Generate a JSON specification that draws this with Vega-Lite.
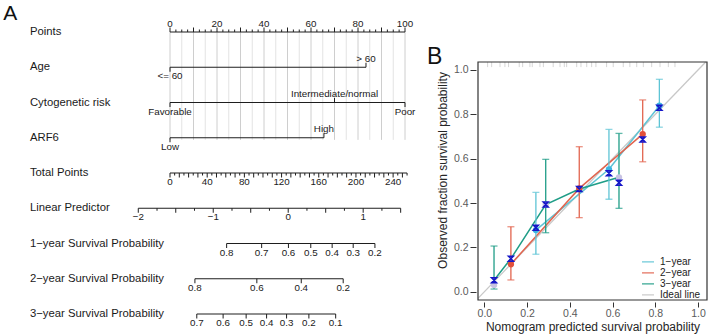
{
  "$schema": "https://vega.github.io/schema/vega-lite/v6.json",
  "padding": 0,
  "background": "white",
  "bounds": "flush",
  "spacing": 58,
  "config": {
    "view": {"stroke": null},
    "font": "Liberation Sans, Arial, Helvetica, sans-serif"
  },
  "resolve": {
    "scale": {"color": "independent", "fill": "independent"},
    "legend": {"color": "independent", "fill": "independent"}
  },
  "datasets": {
    "rowNames": [
      {"row": 0, "name": "Points"},
      {"row": 1, "name": "Age"},
      {"row": 2, "name": "Cytogenetic risk"},
      {"row": 3, "name": "ARF6"},
      {"row": 4, "name": "Total Points"},
      {"row": 5, "name": "Linear Predictor"},
      {"row": 6, "name": "1−year Survival Probability"},
      {"row": 7, "name": "2−year Survival Probability"},
      {"row": 8, "name": "3−year Survival Probability"}
    ],
    "nomoLines": [
      {"row": 0, "from": 0, "to": 100},
      {"row": 1, "from": 0, "to": 83.4},
      {"row": 2, "from": 0, "to": 100},
      {"row": 3, "from": 0, "to": 65.5},
      {"row": 4, "from": 0, "to": 100.878},
      {"row": 5, "from": -13.5, "to": 98.15},
      {"row": 6, "from": 24.1, "to": 87.2},
      {"row": 7, "from": 10.6, "to": 73.7},
      {"row": 8, "from": 11.4, "to": 70.5}
    ],
    "grid5": [
      {"pos": 5}, {"pos": 15}, {"pos": 25}, {"pos": 35}, {"pos": 45},
      {"pos": 55}, {"pos": 65}, {"pos": 75}, {"pos": 85}, {"pos": 95}
    ],
    "grid10": [
      {"pos": 0}, {"pos": 10}, {"pos": 20}, {"pos": 30}, {"pos": 40}, {"pos": 50},
      {"pos": 60}, {"pos": 70}, {"pos": 80}, {"pos": 90}, {"pos": 100}
    ],
    "ticksUp": [
      {"row": 0, "pos": 0}, {"row": 0, "pos": 10}, {"row": 0, "pos": 20}, {"row": 0, "pos": 30},
      {"row": 0, "pos": 40}, {"row": 0, "pos": 50}, {"row": 0, "pos": 60}, {"row": 0, "pos": 70},
      {"row": 0, "pos": 80}, {"row": 0, "pos": 90}, {"row": 0, "pos": 100},
      {"row": 1, "pos": 83.4},
      {"row": 2, "pos": 70},
      {"row": 3, "pos": 65.5}
    ],
    "ticksUpMinor": [
      {"row": 0, "pos": 2.5}, {"row": 0, "pos": 5}, {"row": 0, "pos": 7.5},
      {"row": 0, "pos": 12.5}, {"row": 0, "pos": 15}, {"row": 0, "pos": 17.5},
      {"row": 0, "pos": 22.5}, {"row": 0, "pos": 25}, {"row": 0, "pos": 27.5},
      {"row": 0, "pos": 32.5}, {"row": 0, "pos": 35}, {"row": 0, "pos": 37.5},
      {"row": 0, "pos": 42.5}, {"row": 0, "pos": 45}, {"row": 0, "pos": 47.5},
      {"row": 0, "pos": 52.5}, {"row": 0, "pos": 55}, {"row": 0, "pos": 57.5},
      {"row": 0, "pos": 62.5}, {"row": 0, "pos": 65}, {"row": 0, "pos": 67.5},
      {"row": 0, "pos": 72.5}, {"row": 0, "pos": 75}, {"row": 0, "pos": 77.5},
      {"row": 0, "pos": 82.5}, {"row": 0, "pos": 85}, {"row": 0, "pos": 87.5},
      {"row": 0, "pos": 92.5}, {"row": 0, "pos": 95}, {"row": 0, "pos": 97.5}
    ],
    "ticksDown": [
      {"row": 1, "pos": 0},
      {"row": 2, "pos": 0}, {"row": 2, "pos": 100},
      {"row": 3, "pos": 0},
      {"row": 4, "pos": 0}, {"row": 4, "pos": 3.956}, {"row": 4, "pos": 7.912}, {"row": 4, "pos": 11.868},
      {"row": 4, "pos": 15.824}, {"row": 4, "pos": 19.78}, {"row": 4, "pos": 23.736}, {"row": 4, "pos": 27.692},
      {"row": 4, "pos": 31.648}, {"row": 4, "pos": 35.604}, {"row": 4, "pos": 39.56}, {"row": 4, "pos": 43.516},
      {"row": 4, "pos": 47.472}, {"row": 4, "pos": 51.428}, {"row": 4, "pos": 55.384}, {"row": 4, "pos": 59.34},
      {"row": 4, "pos": 63.296}, {"row": 4, "pos": 67.252}, {"row": 4, "pos": 71.208}, {"row": 4, "pos": 75.164},
      {"row": 4, "pos": 79.12}, {"row": 4, "pos": 83.076}, {"row": 4, "pos": 87.032}, {"row": 4, "pos": 90.988},
      {"row": 4, "pos": 94.944}, {"row": 4, "pos": 98.9},
      {"row": 5, "pos": -13.5}, {"row": 5, "pos": 2.45}, {"row": 5, "pos": 18.4}, {"row": 5, "pos": 34.35},
      {"row": 5, "pos": 50.3}, {"row": 5, "pos": 66.25}, {"row": 5, "pos": 82.2}, {"row": 5, "pos": 98.15},
      {"row": 6, "pos": 24.1}, {"row": 6, "pos": 39.0}, {"row": 6, "pos": 50.4}, {"row": 6, "pos": 59.9},
      {"row": 6, "pos": 69.0}, {"row": 6, "pos": 77.95}, {"row": 6, "pos": 87.2},
      {"row": 7, "pos": 10.6}, {"row": 7, "pos": 36.95}, {"row": 7, "pos": 55.85}, {"row": 7, "pos": 73.7},
      {"row": 8, "pos": 11.4}, {"row": 8, "pos": 22.6}, {"row": 8, "pos": 32.4}, {"row": 8, "pos": 41.1},
      {"row": 8, "pos": 49.6}, {"row": 8, "pos": 59.1}, {"row": 8, "pos": 70.5}
    ],
    "ticksDownMinor": [
      {"row": 4, "pos": 1.978}, {"row": 4, "pos": 5.934}, {"row": 4, "pos": 9.89}, {"row": 4, "pos": 13.846},
      {"row": 4, "pos": 17.802}, {"row": 4, "pos": 21.758}, {"row": 4, "pos": 25.714}, {"row": 4, "pos": 29.67},
      {"row": 4, "pos": 33.626}, {"row": 4, "pos": 37.582}, {"row": 4, "pos": 41.538}, {"row": 4, "pos": 45.494},
      {"row": 4, "pos": 49.45}, {"row": 4, "pos": 53.406}, {"row": 4, "pos": 57.362}, {"row": 4, "pos": 61.318},
      {"row": 4, "pos": 65.274}, {"row": 4, "pos": 69.23}, {"row": 4, "pos": 73.186}, {"row": 4, "pos": 77.142},
      {"row": 4, "pos": 81.098}, {"row": 4, "pos": 85.054}, {"row": 4, "pos": 89.01}, {"row": 4, "pos": 92.966},
      {"row": 4, "pos": 96.922}, {"row": 4, "pos": 100.878},
      {"row": 5, "pos": -5.525}, {"row": 5, "pos": 10.425}, {"row": 5, "pos": 26.375}, {"row": 5, "pos": 42.325},
      {"row": 5, "pos": 58.275}, {"row": 5, "pos": 74.225}, {"row": 5, "pos": 90.175}
    ],
    "labelsAbove": [
      {"row": 0, "pos": 0, "text": "0"}, {"row": 0, "pos": 20, "text": "20"},
      {"row": 0, "pos": 40, "text": "40"}, {"row": 0, "pos": 60, "text": "60"},
      {"row": 0, "pos": 80, "text": "80"}, {"row": 0, "pos": 100, "text": "100"},
      {"row": 1, "pos": 83.4, "text": "> 60"},
      {"row": 2, "pos": 70, "text": "Intermediate/normal"},
      {"row": 3, "pos": 65.5, "text": "High"}
    ],
    "labelsBelow": [
      {"row": 1, "pos": 0, "text": "<= 60"},
      {"row": 2, "pos": 0, "text": "Favorable"},
      {"row": 2, "pos": 100, "text": "Poor"},
      {"row": 3, "pos": 0, "text": "Low"},
      {"row": 4, "pos": 0, "text": "0"}, {"row": 4, "pos": 15.824, "text": "40"},
      {"row": 4, "pos": 31.648, "text": "80"}, {"row": 4, "pos": 47.472, "text": "120"},
      {"row": 4, "pos": 63.296, "text": "160"}, {"row": 4, "pos": 79.12, "text": "200"},
      {"row": 4, "pos": 94.944, "text": "240"},
      {"row": 5, "pos": -13.5, "text": "−2"}, {"row": 5, "pos": 18.4, "text": "−1"},
      {"row": 5, "pos": 50.3, "text": "0"}, {"row": 5, "pos": 82.2, "text": "1"},
      {"row": 6, "pos": 24.1, "text": "0.8"}, {"row": 6, "pos": 39.0, "text": "0.7"},
      {"row": 6, "pos": 50.4, "text": "0.6"}, {"row": 6, "pos": 59.9, "text": "0.5"},
      {"row": 6, "pos": 69.0, "text": "0.4"}, {"row": 6, "pos": 77.95, "text": "0.3"},
      {"row": 6, "pos": 87.2, "text": "0.2"},
      {"row": 7, "pos": 10.6, "text": "0.8"}, {"row": 7, "pos": 36.95, "text": "0.6"},
      {"row": 7, "pos": 55.85, "text": "0.4"}, {"row": 7, "pos": 73.7, "text": "0.2"},
      {"row": 8, "pos": 11.4, "text": "0.7"}, {"row": 8, "pos": 22.6, "text": "0.6"},
      {"row": 8, "pos": 32.4, "text": "0.5"}, {"row": 8, "pos": 41.1, "text": "0.4"},
      {"row": 8, "pos": 49.6, "text": "0.3"}, {"row": 8, "pos": 59.1, "text": "0.2"},
      {"row": 8, "pos": 70.5, "text": "0.1"}
    ],
    "calIdeal": [
      {"series": "Ideal line", "x": -0.03, "y": -0.03},
      {"series": "Ideal line", "x": 1.036, "y": 1.036}
    ],
    "calLines": [
      {"series": "1−year", "x": 0.241, "y": 0.278},
      {"series": "1−year", "x": 0.583, "y": 0.552},
      {"series": "1−year", "x": 0.819, "y": 0.839},
      {"series": "2−year", "x": 0.124, "y": 0.124},
      {"series": "2−year", "x": 0.444, "y": 0.466},
      {"series": "2−year", "x": 0.741, "y": 0.711},
      {"series": "3−year", "x": 0.045, "y": 0.052},
      {"series": "3−year", "x": 0.124, "y": 0.149},
      {"series": "3−year", "x": 0.287, "y": 0.393},
      {"series": "3−year", "x": 0.444, "y": 0.463},
      {"series": "3−year", "x": 0.63, "y": 0.516}
    ],
    "cal": [
      {"series": "1−year", "pred": 0.241, "obs": 0.278, "corrected": 0.289, "lo": 0.169, "hi": 0.448},
      {"series": "1−year", "pred": 0.583, "obs": 0.552, "corrected": 0.534, "lo": 0.417, "hi": 0.732},
      {"series": "1−year", "pred": 0.819, "obs": 0.839, "corrected": 0.83, "lo": 0.742, "hi": 0.958},
      {"series": "2−year", "pred": 0.124, "obs": 0.124, "corrected": 0.149, "lo": 0.053, "hi": 0.293},
      {"series": "2−year", "pred": 0.444, "obs": 0.466, "corrected": 0.463, "lo": 0.334, "hi": 0.654},
      {"series": "2−year", "pred": 0.741, "obs": 0.711, "corrected": 0.687, "lo": 0.586, "hi": 0.865},
      {"series": "3−year", "pred": 0.045, "obs": 0.03, "corrected": 0.052, "lo": 0.012, "hi": 0.206},
      {"series": "3−year", "pred": 0.287, "obs": 0.393, "corrected": 0.393, "lo": 0.266, "hi": 0.597},
      {"series": "3−year", "pred": 0.63, "obs": 0.516, "corrected": 0.492, "lo": 0.376, "hi": 0.714}
    ],
    "rug": [
      {"x": 0.015}, {"x": 0.034}, {"x": 0.073}, {"x": 0.096}, {"x": 0.113}, {"x": 0.163},
      {"x": 0.179}, {"x": 0.213}, {"x": 0.224}, {"x": 0.26}, {"x": 0.276}, {"x": 0.322},
      {"x": 0.354}, {"x": 0.374}, {"x": 0.385}, {"x": 0.432}, {"x": 0.452}, {"x": 0.479},
      {"x": 0.502}, {"x": 0.522}, {"x": 0.572}, {"x": 0.603}, {"x": 0.65}, {"x": 0.681},
      {"x": 0.713}, {"x": 0.744}, {"x": 0.783}, {"x": 0.822}, {"x": 0.861}, {"x": 0.892}
    ],
    "panelA": [{"tag": "A"}],
    "panelB": [{"tag": "B"}],
    "frame": [{"x0": -0.03, "x1": 1.042, "y0": -0.0374, "y1": 1.036}]
  },
  "hconcat": [
    {
      "width": 420,
      "height": 336,
      "layer": [
        {
          "data": {"name": "grid5"},
          "mark": {"type": "rule", "color": "#e0e0e0", "strokeWidth": 0.9},
          "encoding": {
            "x": {"field": "pos", "type": "quantitative", "scale": {"domain": [-72.34, 106.38], "nice": false, "zero": false}, "axis": null},
            "y": {"datum": 0, "type": "quantitative", "scale": {"domain": [-0.908, 8.624], "nice": false, "zero": false, "reverse": true}, "axis": null},
            "y2": {"datum": 3.06}
          }
        },
        {
          "data": {"name": "grid10"},
          "mark": {"type": "rule", "color": "#c8c8c8", "strokeWidth": 0.9},
          "encoding": {
            "x": {"field": "pos", "type": "quantitative", "axis": null},
            "y": {"datum": 0, "type": "quantitative", "axis": null},
            "y2": {"datum": 3.06}
          }
        },
        {
          "data": {"name": "nomoLines"},
          "mark": {"type": "rule", "color": "#1e1e1e", "strokeWidth": 1.2},
          "encoding": {
            "x": {"field": "from", "type": "quantitative", "axis": null},
            "x2": {"field": "to"},
            "y": {"field": "row", "type": "quantitative", "axis": null}
          }
        },
        {
          "data": {"name": "ticksUp"},
          "mark": {"type": "rule", "color": "#1e1e1e", "strokeWidth": 1, "y2Offset": -4.5},
          "encoding": {
            "x": {"field": "pos", "type": "quantitative", "axis": null},
            "y": {"field": "row", "type": "quantitative", "axis": null},
            "y2": {"field": "row"}
          }
        },
        {
          "data": {"name": "ticksUpMinor"},
          "mark": {"type": "rule", "color": "#1e1e1e", "strokeWidth": 1, "y2Offset": -2.5},
          "encoding": {
            "x": {"field": "pos", "type": "quantitative", "axis": null},
            "y": {"field": "row", "type": "quantitative", "axis": null},
            "y2": {"field": "row"}
          }
        },
        {
          "data": {"name": "ticksDown"},
          "mark": {"type": "rule", "color": "#1e1e1e", "strokeWidth": 1, "y2Offset": 4.5},
          "encoding": {
            "x": {"field": "pos", "type": "quantitative", "axis": null},
            "y": {"field": "row", "type": "quantitative", "axis": null},
            "y2": {"field": "row"}
          }
        },
        {
          "data": {"name": "ticksDownMinor"},
          "mark": {"type": "rule", "color": "#1e1e1e", "strokeWidth": 1, "y2Offset": 2.5},
          "encoding": {
            "x": {"field": "pos", "type": "quantitative", "axis": null},
            "y": {"field": "row", "type": "quantitative", "axis": null},
            "y2": {"field": "row"}
          }
        },
        {
          "data": {"name": "labelsAbove"},
          "mark": {"type": "text", "fontSize": 9.8, "color": "#1a1a1a", "align": "center", "baseline": "alphabetic", "dy": -5.5},
          "encoding": {
            "x": {"field": "pos", "type": "quantitative", "axis": null},
            "y": {"field": "row", "type": "quantitative", "axis": null},
            "text": {"field": "text"}
          }
        },
        {
          "data": {"name": "labelsBelow"},
          "mark": {"type": "text", "fontSize": 9.8, "color": "#1a1a1a", "align": "center", "baseline": "top", "dy": 4},
          "encoding": {
            "x": {"field": "pos", "type": "quantitative", "axis": null},
            "y": {"field": "row", "type": "quantitative", "axis": null},
            "text": {"field": "text"}
          }
        },
        {
          "data": {"name": "rowNames"},
          "mark": {"type": "text", "fontSize": 11.3, "color": "#1a1a1a", "align": "left", "baseline": "middle"},
          "encoding": {
            "x": {"datum": -59.6, "type": "quantitative", "axis": null},
            "y": {"field": "row", "type": "quantitative", "axis": null},
            "text": {"field": "name"}
          }
        },
        {
          "data": {"name": "panelA"},
          "mark": {"type": "text", "fontSize": 21, "color": "#111111", "align": "left", "baseline": "alphabetic"},
          "encoding": {
            "x": {"datum": -71.0, "type": "quantitative", "axis": null},
            "y": {"datum": -0.34, "type": "quantitative", "axis": null},
            "text": {"field": "tag"}
          }
        }
      ]
    },
    {
      "width": 229,
      "height": 300,
      "layer": [
        {
          "data": {"name": "rug"},
          "mark": {"type": "rule", "color": "#d6d6d6", "strokeWidth": 1},
          "encoding": {
            "x": {
              "field": "x", "type": "quantitative",
              "scale": {"domain": [-0.03, 1.042], "nice": false, "zero": false},
              "axis": {
                "values": [0, 0.2, 0.4, 0.6, 0.8, 1.0], "format": ".1f", "grid": false, "domain": false,
                "offset": 2, "tickSize": 5, "tickColor": "#333333", "labelPadding": 1,
                "labelFontSize": 10.5, "labelColor": "#5a5a5a",
                "title": "Nomogram predicted survival probability", "titleFontSize": 12,
                "titleFontWeight": "normal", "titleColor": "#262626", "titlePadding": 3
              }
            },
            "y": {
              "datum": 1.013, "type": "quantitative",
              "scale": {"domain": [-0.0374, 1.3157], "nice": false, "zero": false},
              "axis": {
                "values": [0, 0.2, 0.4, 0.6, 0.8, 1.0], "format": ".1f", "grid": false, "domain": false,
                "offset": 2, "tickSize": 6, "tickColor": "#333333", "labelPadding": 2,
                "labelFontSize": 10.5, "labelColor": "#5a5a5a",
                "title": "Observed fraction survival probability", "titleFontSize": 12,
                "titleFontWeight": "normal", "titleColor": "#262626", "titleX": -27, "titleY": 170
              }
            },
            "y2": {"datum": 1.036}
          }
        },
        {
          "data": {"name": "calIdeal"},
          "mark": {"type": "line", "strokeWidth": 1.3},
          "encoding": {
            "x": {"field": "x", "type": "quantitative"},
            "y": {"field": "y", "type": "quantitative"},
            "color": {
              "field": "series", "type": "nominal",
              "scale": {"domain": ["1−year", "2−year", "3−year", "Ideal line"], "range": ["#5ec4d5", "#e2644e", "#1f9d87", "#c8c8c8"]},
              "legend": {
                "title": null, "orient": "none", "legendX": 163, "legendY": 257.5,
                "symbolType": "stroke", "symbolSize": 144, "symbolStrokeWidth": 1.6,
                "labelFontSize": 10, "labelColor": "#222222", "labelOffset": 5,
                "clipHeight": 8.7, "rowPadding": 0, "padding": 0
              }
            }
          }
        },
        {
          "data": {"name": "calLines"},
          "mark": {"type": "line", "strokeWidth": 1.5},
          "encoding": {
            "x": {"field": "x", "type": "quantitative"},
            "y": {"field": "y", "type": "quantitative"},
            "color": {"field": "series", "type": "nominal"}
          }
        },
        {
          "data": {"name": "cal"},
          "mark": {"type": "rule", "strokeWidth": 1.3},
          "encoding": {
            "x": {"field": "pred", "type": "quantitative"},
            "y": {"field": "lo", "type": "quantitative"},
            "y2": {"field": "hi"},
            "color": {"field": "series", "type": "nominal"}
          }
        },
        {
          "data": {"name": "cal"},
          "mark": {"type": "tick", "orient": "horizontal", "size": 7, "thickness": 1.3},
          "encoding": {
            "x": {"field": "pred", "type": "quantitative"},
            "y": {"field": "lo", "type": "quantitative"},
            "color": {"field": "series", "type": "nominal"}
          }
        },
        {
          "data": {"name": "cal"},
          "mark": {"type": "tick", "orient": "horizontal", "size": 7, "thickness": 1.3},
          "encoding": {
            "x": {"field": "pred", "type": "quantitative"},
            "y": {"field": "hi", "type": "quantitative"},
            "color": {"field": "series", "type": "nominal"}
          }
        },
        {
          "data": {"name": "cal"},
          "mark": {"type": "point", "filled": true, "size": 40, "opacity": 1},
          "encoding": {
            "x": {"field": "pred", "type": "quantitative"},
            "y": {"field": "obs", "type": "quantitative"},
            "fill": {
              "field": "series", "type": "nominal",
              "scale": {"domain": ["1−year", "2−year", "3−year"], "range": ["#3db5e2", "#e2503b", "#c8c3e2"]},
              "legend": null
            }
          }
        },
        {
          "data": {"name": "cal"},
          "mark": {"type": "point", "shape": "M-1,-1H1L-1,1H1Z", "filled": false, "size": 25, "stroke": "#1616c8", "strokeWidth": 1.5, "opacity": 1},
          "encoding": {
            "x": {"field": "pred", "type": "quantitative"},
            "y": {"field": "corrected", "type": "quantitative"}
          }
        },
        {
          "data": {"name": "frame"},
          "mark": {"type": "rect", "filled": false, "stroke": "#333333", "strokeWidth": 1.2},
          "encoding": {
            "x": {"field": "x0", "type": "quantitative"},
            "x2": {"field": "x1"},
            "y": {"field": "y0", "type": "quantitative"},
            "y2": {"field": "y1"}
          }
        },
        {
          "data": {"name": "panelB"},
          "mark": {"type": "text", "fontSize": 23, "color": "#111111", "align": "left", "baseline": "alphabetic"},
          "encoding": {
            "x": {"datum": -0.269, "type": "quantitative"},
            "y": {"datum": 1.027, "type": "quantitative"},
            "text": {"field": "tag"}
          }
        }
      ]
    }
  ]
}
